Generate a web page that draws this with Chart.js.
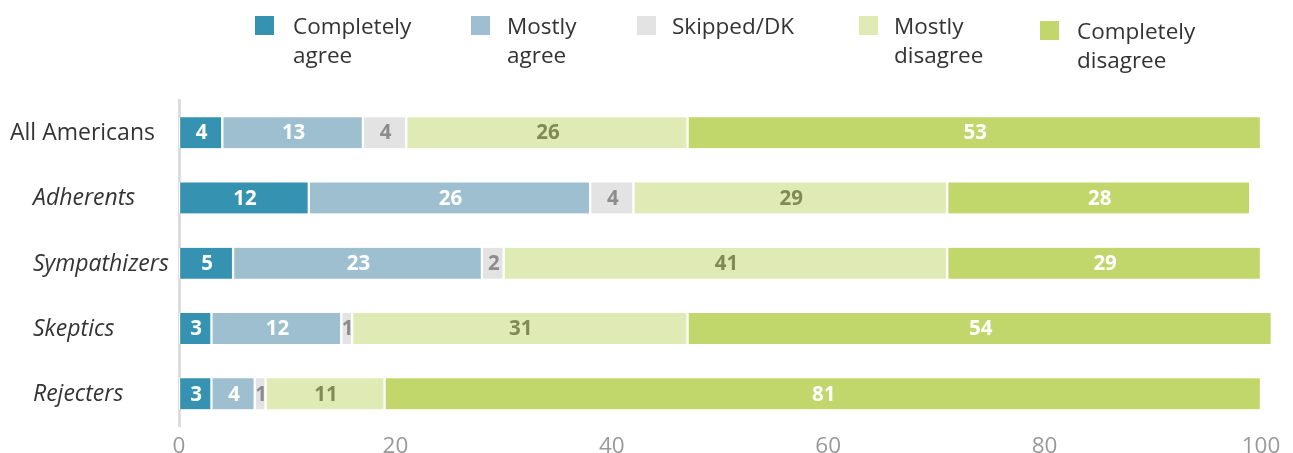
<!DOCTYPE html>
<html>
<head>
<meta charset="utf-8">
<script src="https://cdn.jsdelivr.net/npm/chart.js@4"></script>
<style>
    html, body { margin: 0; padding: 0; background: #fff; }
    .wrap { position: relative; width: 1293px; height: 453px; }
    .legend-item { position: absolute; font-family: "Open Sans", sans-serif; font-size: 22.5px; line-height: 29px; color: #333; }
    .legend-item .box { position: absolute; width: 19px; height: 19px; }
</style>
</head>
<body>
<div class="wrap">
    <canvas id="surveyChart"></canvas>
    <div id="legend"></div>
</div>
<script>
// Survey groups and share (%) giving each answer
const groups = ['All Americans', 'Adherents', 'Sympathizers', 'Skeptics', 'Rejecters'];
const answers = ['Completely agree', 'Mostly agree', 'Skipped/DK', 'Mostly disagree', 'Completely disagree'];
const completelyAgree = [4, 12, 5, 3, 3];
const mostlyAgree = [13, 26, 23, 12, 4];
const skippedDK = [4, 4, 2, 1, 1];
const mostlyDisagree = [26, 29, 41, 31, 11];
const completelyDisagree = [53, 28, 29, 54, 81];
const xTicks = [0, 20, 40, 60, 80, 100];

const fills = ['#3592b0', '#9dbfd0', '#e3e3e3', '#e0eab5', '#c2d76b'];
const valueColors = ['#ffffff', '#ffffff', '#8c8c8c', '#7f8a55', '#ffffff'];
const seriesValues = [completelyAgree, mostlyAgree, skippedDK, mostlyDisagree, completelyDisagree];

// Legend: two-line labels, last one sits a little lower
const legendPos = [
    { box: [255, 16], text: [293, 11] },
    { box: [471, 16], text: [507, 11] },
    { box: [637, 16], text: [672, 11] },
    { box: [859, 16], text: [894, 11] },
    { box: [1040, 21], text: [1077, 16] }
];
const legendText = ['Completely<br>agree', 'Mostly<br>agree', 'Skipped/DK', 'Mostly<br>disagree', 'Completely<br>disagree'];
const $legend = document.getElementById('legend');
legendPos.forEach(function(p, i) {
    const box = document.createElement('div');
    box.className = 'legend-item';
    box.innerHTML = '<div class="box"></div>';
    box.style.left = p.box[0] + 'px';
    box.style.top = p.box[1] + 'px';
    box.firstChild.style.background = fills[i];
    $legend.appendChild(box);
    const txt = document.createElement('div');
    txt.className = 'legend-item';
    txt.innerHTML = legendText[i];
    txt.style.left = p.text[0] + 'px';
    txt.style.top = p.text[1] + 'px';
    $legend.appendChild(txt);
});

// Value inside each segment
const segmentValues = {
    id: 'segmentValues',
    afterDatasetsDraw(chart) {
        const ctx = chart.ctx;
        ctx.save();
        ctx.font = 'bold 20.5px "Open Sans"';
        ctx.textAlign = 'center';
        ctx.textBaseline = 'middle';
        chart.data.datasets.forEach(function(ds, di) {
            const meta = chart.getDatasetMeta(di);
            ctx.fillStyle = valueColors[di];
            meta.data.forEach(function(bar, i) {
                ctx.fillText(ds.data[i], bar.x - bar.width / 2 + 1, bar.y + 1);
            });
        });
        ctx.restore();
    }
};

// Group names on the left, subgroups in italics
const groupLabels = {
    id: 'groupLabels',
    afterDraw(chart) {
        const ctx = chart.ctx;
        const yScale = chart.scales.y;
        ctx.save();
        ctx.fillStyle = '#333';
        ctx.textAlign = 'left';
        ctx.textBaseline = 'middle';
        groups.forEach(function(g, i) {
            ctx.font = (i === 0 ? '' : 'italic ') + '23px "Open Sans"';
            ctx.fillText(g, i === 0 ? 10 : 33, yScale.getPixelForValue(i) + 1);
        });
        ctx.restore();
    }
};

const ctx = document.getElementById('surveyChart').getContext('2d');
const surveyChart = new Chart(ctx, {
    type: 'bar',
    data: {
        labels: groups,
        datasets: answers.map(function(name, i) {
            return {
                label: name,
                data: seriesValues[i],
                backgroundColor: fills[i],
                borderColor: '#ffffff',
                borderWidth: { left: 1.5, right: 1.5, top: 0, bottom: 0 },
                borderSkipped: false,
                barThickness: 31,
                clip: false
            };
        })
    },
    options: {
        indexAxis: 'y',
        responsive: true,
        maintainAspectRatio: false,
        animation: false,
        layout: { padding: { top: 100, left: 171, right: 32, bottom: -6 } },
        plugins: {
            legend: { display: false },
            tooltip: { enabled: false }
        },
        scales: {
            x: {
                stacked: true,
                min: 0,
                max: 100,
                afterBuildTicks: function(scale) {
                    scale.ticks = xTicks.map(function(v) { return { value: v }; });
                },
                grid: { display: false },
                border: { display: false },
                ticks: {
                    color: '#999',
                    font: { family: 'Open Sans', size: 22.5, lineHeight: 1 },
                    padding: 1
                }
            },
            y: {
                stacked: true,
                grid: { display: false },
                border: { display: true, color: '#dcdcdc', width: 3 },
                ticks: { display: false }
            }
        }
    },
    plugins: [segmentValues, groupLabels]
});
</script>
</body>
</html>
